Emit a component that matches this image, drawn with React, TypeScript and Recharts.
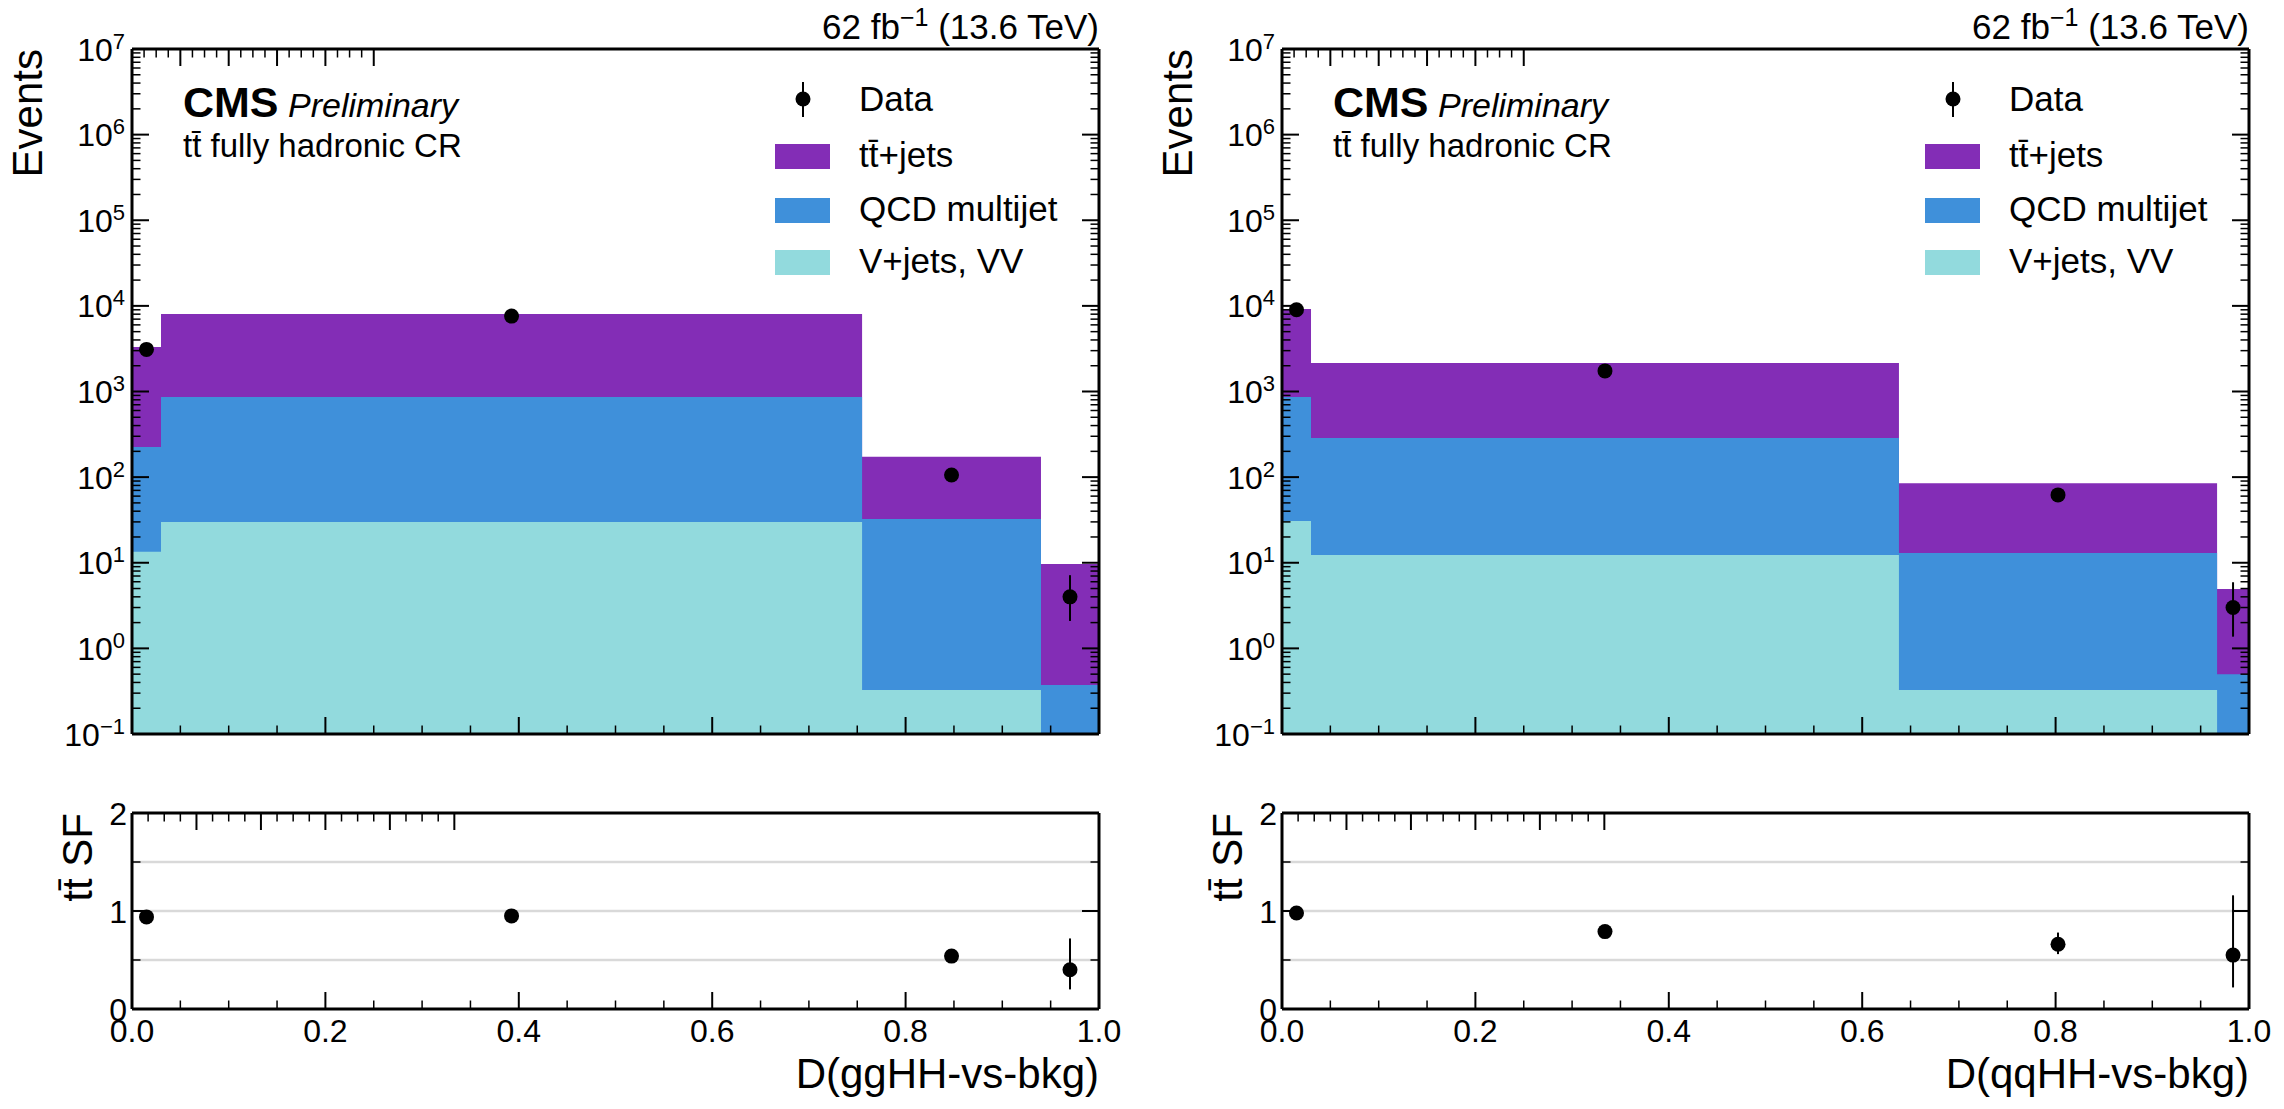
import React from 'react'
import { ComposedChart, Area, Scatter, ErrorBar, XAxis, YAxis, ReferenceLine } from 'recharts'

const FONT = '"Liberation Sans", Arial, Helvetica, sans-serif'
const PURPLE = '#832db6'
const BLUE = '#3f90da'
const CYAN = '#92dadd'

// ggHH discriminant
const edgesGG = [0, 0.03, 0.755, 0.94, 1.0]
const vjetsGG = [13.4, 29.9, 0.327, 0]
const qcdGG = [212, 833, 32.1, 0.373]
const ttGG = [3080, 7180, 140, 9.3]
const dataGG = [3100, 7600, 106, 4]
const dataErrGG = [[55.2, 56.2], [86.7, 87.7], [10.3, 11.3], [1.91, 3.16]]
const sfGG = [0.94, 0.95, 0.54, 0.4]
const sfErrGG = [[0.02, 0.02], [0.015, 0.015], [0.07, 0.07], [0.2, 0.32]]

// qqHH discriminant
const edgesQQ = [0, 0.03, 0.638, 0.967, 1.0]
const vjetsQQ = [30.7, 12.3, 0.327, 0]
const qcdQQ = [832, 274, 12.7, 0.5]
const ttQQ = [8340, 1864, 72, 4.43]
const dataQQ = [9000, 1740, 62, 3]
const dataErrQQ = [[94.4, 95.4], [41.2, 42.2], [7.9, 8.9], [1.63, 2.92]]
const sfQQ = [0.98, 0.79, 0.66, 0.55]
const sfErrQQ = [[0.01, 0.01], [0.025, 0.025], [0.1, 0.12], [0.33, 0.61]]

// axis ticks
const xTicks = Array.from({ length: 21 }, (_, i) => i / 20)
const logExps = [-1, 0, 1, 2, 3, 4, 5, 6, 7]
const logTicks = logExps.flatMap((e) =>
  e === 7 ? [1e7] : [1, 2, 3, 4, 5, 6, 7, 8, 9].map((m) => m * Math.pow(10, e))
)
const sfTicks = [0, 0.5, 1, 1.5, 2]
const sfGrid = [0.5, 1, 1.5]
const TTBAR = 'tt\u0304'
const legendItems = [
  { name: TTBAR + '+jets', color: PURPLE },
  { name: 'QCD multijet', color: BLUE },
  { name: 'V+jets, VV', color: CYAN },
]

const FLOOR = 0.1
const frame = { stroke: '#000', strokeWidth: 3 }

type Side = 'left' | 'right' | 'top' | 'bottom'

const isDecade = (v: number) => {
  const l = Math.log10(v)
  return Math.abs(l - Math.round(l)) < 1e-6
}
const isMult = (step: number) => (v: number) => Math.abs(v / step - Math.round(v / step)) < 1e-6

function makeTick(side: Side, major: (v: number) => boolean, label?: (v: number, x: number, y: number) => React.ReactNode) {
  return (p: any) => {
    const { x, y, payload } = p
    const v = payload.value
    const big = major(v)
    const len = big ? 17 : 8.5
    let c = [x, y, x, y - len]
    if (side === 'left') c = [x, y, x + len, y]
    if (side === 'right') c = [x, y, x - len, y]
    if (side === 'top') c = [x, y, x, y + len]
    return (
      <g>
        <line x1={c[0]} y1={c[1]} x2={c[2]} y2={c[3]} stroke="#000" strokeWidth={big ? 2 : 1.5} />
        {big && label ? label(v, x, y) : null}
      </g>
    )
  }
}

const logLabel = (v: number, x: number, y: number) => {
  const e = Math.round(Math.log10(v))
  return (
    <text x={x - 7} y={y + 11.5} textAnchor="end" fontSize={32} fontFamily={FONT} fill="#000">
      10<tspan dy={-12} fontSize={22}>{e < 0 ? '\u2212' + -e : e}</tspan>
    </text>
  )
}
const xLabel = (v: number, x: number, y: number) => (
  <text x={x} y={y + 33} textAnchor="middle" fontSize={32} fontFamily={FONT} fill="#000">
    {v.toFixed(1)}
  </text>
)
const sfLabel = (v: number, x: number, y: number) => (
  <text x={x - 5} y={y + 11.5} textAnchor="end" fontSize={32} fontFamily={FONT} fill="#000">
    {v}
  </text>
)

const dot = (p: any) => <circle cx={p.cx} cy={p.cy} r={7.5} fill="#000" />

type PanelProps = {
  ox: number
  edges: number[]
  vjets: number[]
  qcd: number[]
  tt: number[]
  data: number[]
  dataErr: number[][]
  sf: number[]
  sfErr: number[][]
  xTitle: string
}

function Panel({ ox, edges, vjets, qcd, tt, data, dataErr, sf, sfErr, xTitle }: PanelProps) {
  const n = vjets.length
  const table = edges.map((x, i) => {
    const b = Math.min(i, n - 1)
    return {
      x,
      vj: Math.max(vjets[b], FLOOR),
      qcd: Math.max(vjets[b] + qcd[b], FLOOR),
      tt: vjets[b] + qcd[b] + tt[b],
    }
  })
  const centers = data.map((_, i) => (edges[i] + edges[i + 1]) / 2)
  const points = data.map((y, i) => ({ x: centers[i], y, err: dataErr[i] }))
  const sfPoints = sf.map((y, i) => ({ x: centers[i], y, err: sfErr[i] }))

  const xAxes = (labels: boolean) => [
    <XAxis key="b" xAxisId="b" dataKey="x" type="number" domain={[0, 1]} allowDataOverflow ticks={xTicks} interval={0}
      height={1} tickSize={0} tickMargin={0} tickLine={false} axisLine={frame}
      tick={makeTick('bottom', isMult(0.2), labels ? xLabel : undefined)} />,
    <XAxis key="t" xAxisId="t" orientation="top" type="number" domain={[0, 1]} allowDataOverflow ticks={xTicks} interval={0}
      height={1} tickSize={0} tickMargin={0} tickLine={false} axisLine={frame}
      tick={makeTick('top', isMult(0.2))} />,
  ]

  return (
    <>
      <div style={{ position: 'absolute', left: ox, top: 0 }}>
        <ComposedChart width={1130} height={775} data={table} margin={{ top: 48, right: 30, bottom: 40, left: 32 }}>
          <Area xAxisId="b" yAxisId="l" type="stepAfter" dataKey="tt" fill={PURPLE} fillOpacity={1} stroke="none"
            baseValue="dataMin" dot={false} activeDot={false} isAnimationActive={false} />
          <Area xAxisId="b" yAxisId="l" type="stepAfter" dataKey="qcd" fill={BLUE} fillOpacity={1} stroke="none"
            baseValue="dataMin" dot={false} activeDot={false} isAnimationActive={false} />
          <Area xAxisId="b" yAxisId="l" type="stepAfter" dataKey="vj" fill={CYAN} fillOpacity={1} stroke="none"
            baseValue="dataMin" dot={false} activeDot={false} isAnimationActive={false} />
          <Scatter xAxisId="b" yAxisId="l" data={points} dataKey="y" shape={dot} isAnimationActive={false}>
            <ErrorBar dataKey="err" direction="y" width={0} stroke="#000" strokeWidth={2} isAnimationActive={false} />
          </Scatter>
          {xAxes(false)}
          <YAxis yAxisId="l" type="number" scale="log" domain={[0.1, 1e7]} allowDataOverflow ticks={logTicks} interval={0}
            width={100} tickSize={0} tickMargin={0} tickLine={false} axisLine={frame}
            tick={makeTick('left', isDecade, logLabel)} />
          <YAxis yAxisId="r" orientation="right" type="number" scale="log" domain={[0.1, 1e7]} allowDataOverflow ticks={logTicks}
            interval={0} width={1} tickSize={0} tickMargin={0} tickLine={false} axisLine={frame}
            tick={makeTick('right', isDecade)} />
        </ComposedChart>
      </div>
      <div style={{ position: 'absolute', left: ox, top: 790 }}>
        <ComposedChart width={1130} height={300} data={sfPoints} margin={{ top: 22, right: 30, bottom: 80, left: 32 }}>
          {sfGrid.map((g) => (
            <ReferenceLine key={g} xAxisId="b" yAxisId="l" y={g} stroke="#d9d9d9" strokeWidth={2.5} />
          ))}
          <Scatter xAxisId="b" yAxisId="l" data={sfPoints} dataKey="y" shape={dot} isAnimationActive={false}>
            <ErrorBar dataKey="err" direction="y" width={0} stroke="#000" strokeWidth={2} isAnimationActive={false} />
          </Scatter>
          {xAxes(true)}
          <YAxis yAxisId="l" type="number" domain={[0, 2]} allowDataOverflow ticks={sfTicks} interval={0}
            width={100} tickSize={0} tickMargin={0} tickLine={false} axisLine={frame}
            tick={makeTick('left', isMult(1), sfLabel)} />
          <YAxis yAxisId="r" orientation="right" type="number" domain={[0, 2]} allowDataOverflow ticks={sfTicks}
            interval={0} width={1} tickSize={0} tickMargin={0} tickLine={false} axisLine={frame}
            tick={makeTick('right', isMult(1))} />
        </ComposedChart>
      </div>
      <svg width={1130} height={1109} style={{ position: 'absolute', left: ox, top: 0, pointerEvents: 'none' }}
        fontFamily={FONT} fill="#000">
        <text x={42} y={49} transform="rotate(-90 42 49)" textAnchor="end" fontSize={42}>Events</text>
        <text x={92} y={813} transform="rotate(-90 92 813)" textAnchor="end" fontSize={42}>
          {TTBAR + ' SF'}
        </text>
        <text x={183} y={117} fontSize={43} fontWeight="bold">CMS</text>
        <text x={288} y={117} fontSize={34} fontStyle="italic">Preliminary</text>
        <text x={183} y={157} fontSize={33}>{TTBAR + ' fully hadronic CR'}</text>
        <text x={1099} y={39} textAnchor="end" fontSize={35}>
          62 fb<tspan dy={-13} fontSize={25}>{'\u22121'}</tspan>
          <tspan dy={13}> (13.6 TeV)</tspan>
        </text>
        <text x={1099} y={1088} textAnchor="end" fontSize={42}>{xTitle}</text>
        <line x1={803} y1={82} x2={803} y2={117} stroke="#000" strokeWidth={2} />
        <circle cx={803} cy={99} r={7.5} fill="#000" />
        <text x={859} y={111} fontSize={35}>Data</text>
        {legendItems.map((it, i) => {
          const top = [144, 198, 250][i]
          return (
            <g key={it.name}>
              <rect x={775} y={top} width={55} height={25} fill={it.color} />
              <text x={859} y={top + 23} fontSize={35}>{it.name}</text>
            </g>
          )
        })}
      </svg>
    </>
  )
}

export default function App() {
  return (
    <div style={{ position: 'relative', width: 2284, height: 1109, background: '#fff', overflow: 'hidden' }}>
      <style>{'body{margin:0}'}</style>
      <Panel ox={0} edges={edgesGG} vjets={vjetsGG} qcd={qcdGG} tt={ttGG} data={dataGG} dataErr={dataErrGG}
        sf={sfGG} sfErr={sfErrGG} xTitle="D(ggHH-vs-bkg)" />
      <Panel ox={1150} edges={edgesQQ} vjets={vjetsQQ} qcd={qcdQQ} tt={ttQQ} data={dataQQ} dataErr={dataErrQQ}
        sf={sfQQ} sfErr={sfErrQQ} xTitle="D(qqHH-vs-bkg)" />
    </div>
  )
}
